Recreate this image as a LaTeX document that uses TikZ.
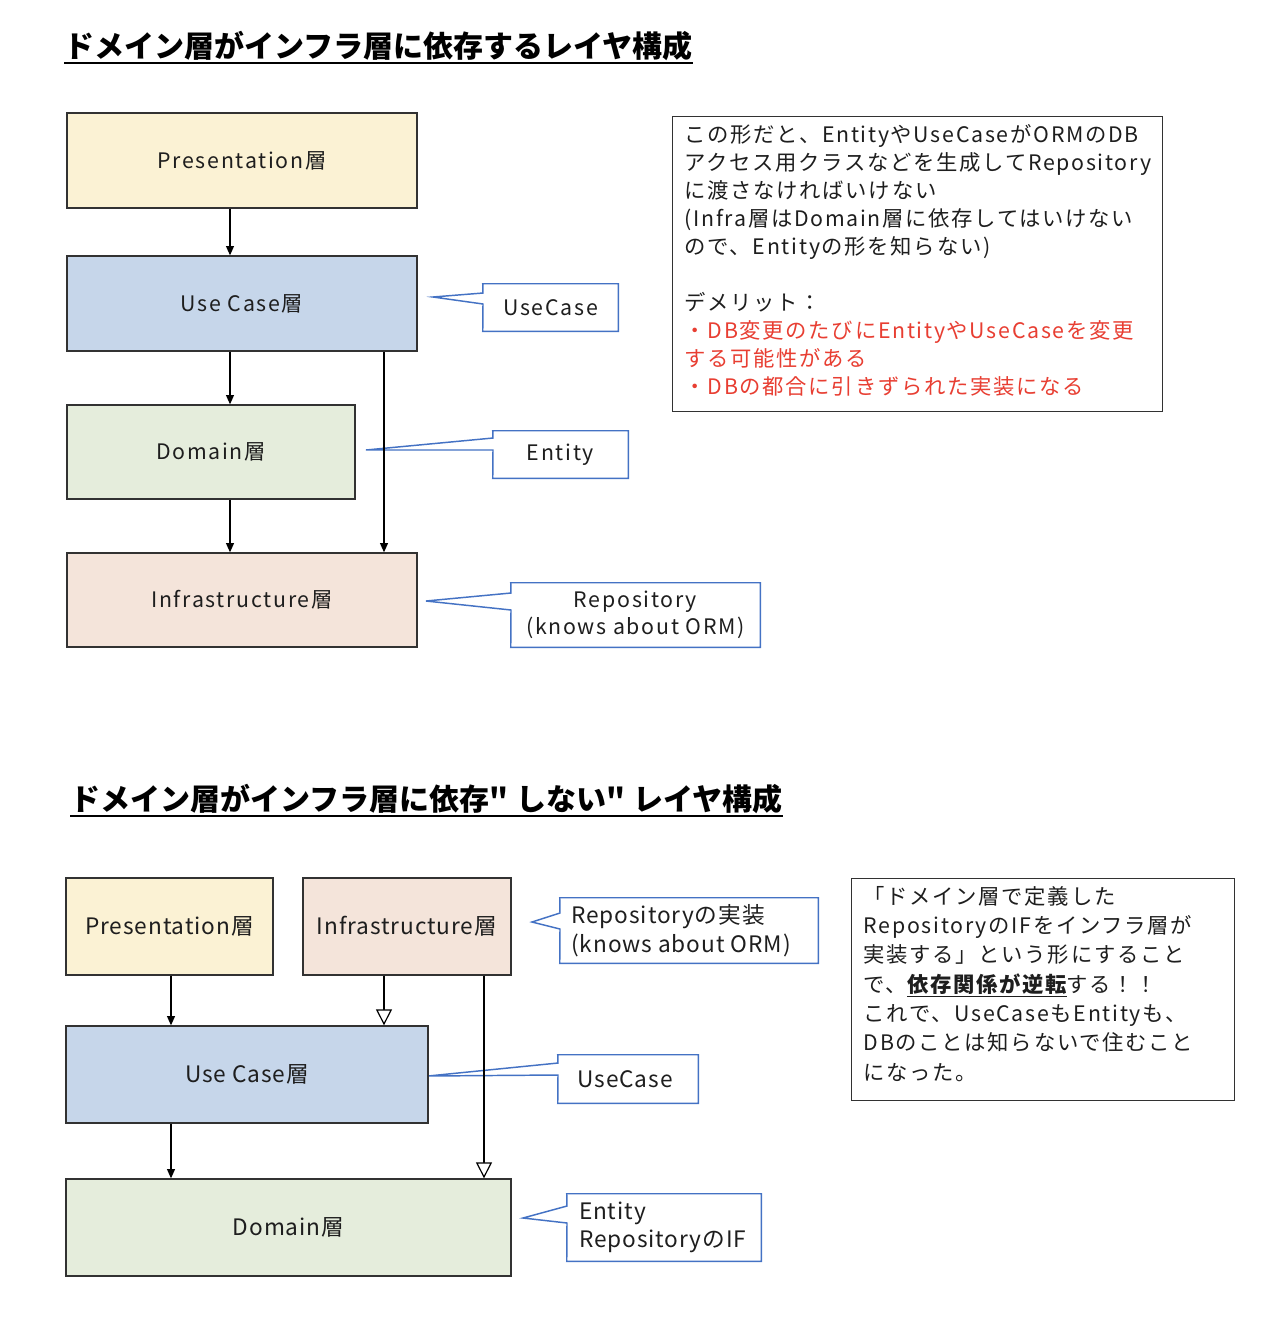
\documentclass[tikz,border=0pt]{standalone}
\usepackage{fontspec}
\setmainfont{Noto Sans CJK JP}
\newfontfamily\jp[LetterSpace=8]{Noto Sans CJK JP}
\newfontfamily\jpn[LetterSpace=4]{Noto Sans CJK JP}
\newfontfamily\jpt{Noto Sans CJK JP}
\usetikzlibrary{arrows.meta,fit,calc}
\definecolor{cyellow}{RGB}{251,242,212}
\definecolor{cblue}{RGB}{198,214,234}
\definecolor{cgreen}{RGB}{229,237,220}
\definecolor{cpeach}{RGB}{244,228,218}
\definecolor{callblue}{RGB}{68,114,196}
\definecolor{cred}{RGB}{232,62,50}
\definecolor{boxline}{RGB}{50,50,50}
\definecolor{txt}{RGB}{30,30,30}
\pgfdeclarelayer{bg}
\pgfdeclarelayer{callouts}
\pgfsetlayers{bg,callouts,main}
\begin{document}
\begin{tikzpicture}[x=0.75pt,y=-0.75pt,
  layerbox/.style={draw=boxline, line width=1pt, inner sep=0pt},
  labA/.style={font=\jp\fontsize{16}{20}\selectfont, text=txt, inner sep=0pt, align=center},
  labB/.style={font=\jpn\fontsize{17}{21.5}\selectfont, text=txt, inner sep=0pt, align=left},
  cbox/.style={inner sep=0pt},
  callshape/.style={draw=callblue, line width=1.1pt, fill=white, line join=miter},
  arr/.style={line width=0.9pt, draw=black, -{Triangle[length=7pt,width=6pt]}},
  oarr/.style={line width=0.9pt, draw=black, -{Triangle[open,length=12pt,width=12pt,fill=white]}},
  note/.style={draw=boxline, line width=1pt, anchor=north west, align=left, inner xsep=9pt, inner ysep=0pt, text=txt},
  ttl/.style={inner sep=0pt, anchor=base west, font=\jpt\bfseries\fontsize{22.5}{26}\selectfont},
  uline/.style={line width=2.2pt}
]
\begin{pgfonlayer}{bg}
\fill[white] (0,0) rectangle (1268,1322);
\end{pgfonlayer}
\useasboundingbox (0,0) rectangle (1268,1322);

% ---------- Titles ----------
\node[ttl] (t1) at (64,57) {ドメイン層がインフラ層に依存するレイヤ構成};
\draw[uline] ([yshift=-4.5pt]t1.base west) -- ([yshift=-4.5pt]t1.base east);
\node[ttl] (t2) at (70,810) {ドメイン層がインフラ層に依存"\kern6pt しない"\kern6pt レイヤ構成};
\draw[uline] ([yshift=-4.5pt]t2.base west) -- ([yshift=-4.5pt]t2.base east);

% ---------- Diagram 1 ----------
\node[layerbox, fill=cyellow, fit={(67,113) (417,208)}] (p1) {};
\node[labA] at (p1.center) {Presentation層};
\node[layerbox, fill=cblue, fit={(67,256) (417,351)}] (u1) {};
\node[labA] at (u1.center) {Use Case層};
\node[layerbox, fill=cgreen, fit={(67,405) (355,499)}] (d1) {};
\node[labA] at (d1.center) {Domain層};
\node[layerbox, fill=cpeach, fit={(67,553) (417,647)}] (i1) {};
\node[labA] at (i1.center) {Infrastructure層};

\coordinate (xa) at (230,0);
\coordinate (xb) at (384,0);
\draw[arr] (p1.south -| xa) -- (u1.north -| xa);
\draw[arr] (u1.south -| xa) -- (d1.north -| xa);
\draw[arr] (d1.south -| xa) -- (i1.north -| xa);
\draw[arr] (u1.south -| xb) -- (i1.north -| xb);

% callouts diagram 1
\node[cbox, fit={(483,284) (618,331)}] (cu1) {};
\node[labA] at (cu1.center) {UseCase};
\coordinate (cu1t) at (433,297);
\coordinate (cu1a) at (483,293);
\coordinate (cu1b) at (483,304);
\node[cbox, fit={(493,431) (628,478)}] (ce1) {};
\node[labA] at (ce1.center) {Entity};
\coordinate (ce1t) at (366,450);
\coordinate (ce1a) at (493,438);
\coordinate (ce1b) at (493,450);
\node[cbox, fit={(511,583) (760,647)}] (cr1) {};
\node[labA] at (cr1.center) {Repository\\(knows about ORM)};
\coordinate (cr1t) at (426,601);
\coordinate (cr1a) at (511,593);
\coordinate (cr1b) at (511,610);

% ---------- Diagram 2 ----------
\node[layerbox, fill=cyellow, fit={(66,878) (273,975)}] (p2) {};
\node[labB] at (p2.center) {Presentation層};
\node[layerbox, fill=cpeach, fit={(303,878) (511,975)}] (i2) {};
\node[labB] at (i2.center) {Infrastructure層};
\node[layerbox, fill=cblue, fit={(66,1026) (428,1123)}] (u2) {};
\node[labB] at (u2.center) {Use Case層};
\node[layerbox, fill=cgreen, fit={(66,1179) (511,1276)}] (d2) {};
\node[labB] at (d2.center) {Domain層};

% callouts diagram 2
\node[cbox, fit={(560,898) (818,963)}] (cr2) {};
\node[labB, anchor=west] at ([xshift=8.5pt]cr2.west) {Repositoryの実装\\(knows about ORM)};
\coordinate (cr2t) at (532,922);
\coordinate (cr2a) at (560,913);
\coordinate (cr2b) at (560,929);
\node[cbox, fit={(558,1055) (698,1103)}] (cu2) {};
\node[labB, anchor=west] at ([xshift=14.5pt]cu2.west) {UseCase};
\coordinate (cu2t) at (428,1076);
\coordinate (cu2a) at (558,1063);
\coordinate (cu2b) at (558,1075);
\node[cbox, fit={(567,1194) (761,1261)}] (ce2) {};
\node[labB, anchor=west] at ([xshift=9pt]ce2.west) {Entity\\RepositoryのIF};
\coordinate (ce2t) at (523,1218);
\coordinate (ce2a) at (567,1206);
\coordinate (ce2b) at (567,1223);

\coordinate (xc) at (171,0);
\coordinate (xd) at (384,0);
\coordinate (xe) at (484,0);
\draw[arr] (p2.south -| xc) -- (u2.north -| xc);
\draw[arr] (u2.south -| xc) -- (d2.north -| xc);
\draw[oarr] (i2.south -| xd) -- (u2.north -| xd);
\draw[oarr] (i2.south -| xe) -- (d2.north -| xe);

% callout shapes
\begin{pgfonlayer}{callouts}
\foreach \c in {cu1,ce1,cr1,cr2,cu2,ce2}{
  \filldraw[callshape] (\c.north west) -- (\c.north east) -- (\c.south east) -- (\c.south west)
    -- (\c b) -- (\c t) -- (\c a) -- cycle;
}
\end{pgfonlayer}

% ---------- Notes ----------
\node[note, minimum width=367.5pt, minimum height=221.25pt, text width=349.5pt,
      font=\jp\fontsize{16}{21}\selectfont] (n1) at (672,116)
{この形だと、EntityやUseCaseがORMのDB\\
アクセス用クラスなどを生成してRepository\\
に渡さなければいけない\\
(Infra層はDomain層に依存してはいけない\\
ので、Entityの形を知らない)\\[21pt]
デメリット：\\
{\color{cred}・DB変更のたびにEntityやUseCaseを変更\\
する可能性がある\\
・DBの都合に引きずられた実装になる}\par\kern5pt};

\node[note, minimum width=287.25pt, minimum height=166.5pt, text width=269.25pt,
      font=\jp\fontsize{16}{22}\selectfont] (n2) at (851,878)
{「ドメイン層で定義した\\
RepositoryのIFをインフラ層が\\
実装する」という形にすること\\
で、\underline{\bfseries 依存関係が逆転}する！！\\
これで、UseCaseもEntityも、\\
DBのことは知らないで住むこと\\
になった。\par\kern9pt};
\end{tikzpicture}
\end{document}
